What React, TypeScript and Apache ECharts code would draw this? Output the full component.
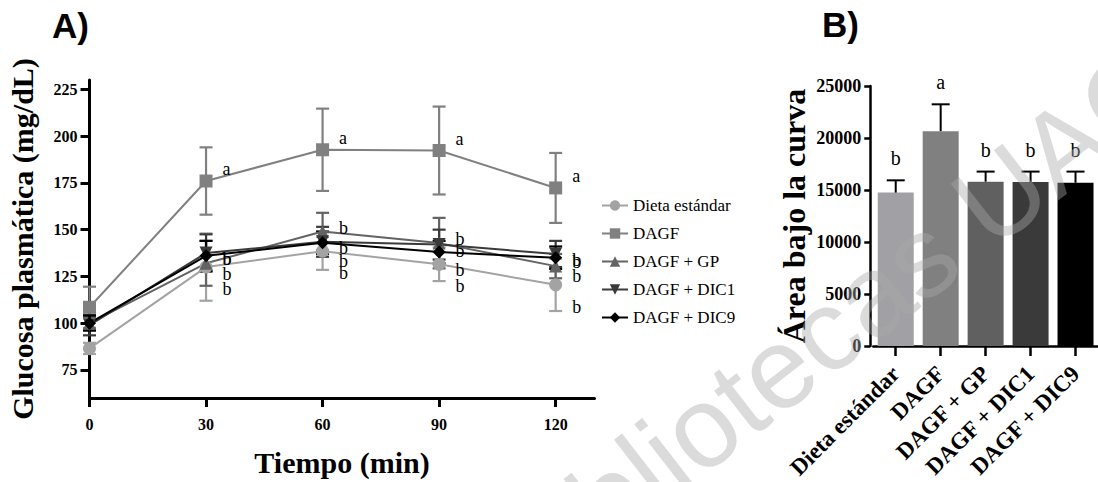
import React, { useEffect, useRef } from "react";
import * as echarts from "echarts";

// ---------- Data ----------
const times = [0, 30, 60, 90, 120];
const groups = ["Dieta estándar", "DAGF", "DAGF + GP", "DAGF + DIC1", "DAGF + DIC9"];

const dietaMean = [86.5, 130, 138.5, 131.5, 120.5];
const dietaSd = [3, 18, 10, 9, 14];
const dagfMean = [108.5, 176, 192.7, 192.3, 172.3];
const dagfSd = [11, 18, 22, 23.5, 18.7];
const gpMean = [100, 132, 149, 142.8, 130.5];
const gpSd = [3, 12, 10, 13.5, 6.5];
const dic1Mean = [99, 137.5, 143.5, 142, 137];
const dic1Sd = [5.5, 10, 8, 8, 7];
const dic9Mean = [100, 136, 143, 138, 135];
const dic9Sd = [4, 8, 6, 6, 6];

const letterDieta = ["", "b", "b", "b", "b"];
const letterDagf = ["", "a", "a", "a", "a"];
const letterGp = ["", "b", "b", "b", "b"];
const letterDic1 = ["", "b", "b", "b", "b"];
const letterDic9 = ["", "b", "b", "b", "b"];

const yTicksA = [75, 100, 125, 150, 175, 200, 225];
const xTicksA = [0, 30, 60, 90, 120];

const aucMean = [14750, 20660, 15800, 15770, 15700];
const aucErr = [1180, 2580, 970, 1000, 1070];
const aucLetters = ["b", "a", "b", "b", "b"];

// ---------- Styles ----------
const lineColors = ["#a3a3a3", "#808080", "#636363", "#3a3a3a", "#000000"];
const barColors = ["#a1a1a5", "#808080", "#606060", "#3a3a3a", "#000000"];
const symbols = ["circle", "rect", "triangle", "triangle", "diamond"];
const symbolRot = [0, 0, 0, 180, 0];
const symbolSizes = [13, 13, 13, 13, 13];
const letterOffsets = [[2, 22], [2, -12], [2, -4], [2, 6], [2, 18]];
const SERIF = "Liberation Serif";

const seriesDefs = [
  { mean: dietaMean, sd: dietaSd, letters: letterDieta },
  { mean: dagfMean, sd: dagfSd, letters: letterDagf },
  { mean: gpMean, sd: gpSd, letters: letterGp },
  { mean: dic1Mean, sd: dic1Sd, letters: letterDic1 },
  { mean: dic9Mean, sd: dic9Sd, letters: letterDic9 },
];

export default function App() {
  const ref = useRef<HTMLDivElement>(null);
  useEffect(() => {
    if (!ref.current) return;
    const chart = echarts.init(ref.current, null, { renderer: "svg" });

    const errSeries = seriesDefs.map((s, gi) => ({
      type: "custom",
      name: "err" + gi,
      xAxisIndex: 0,
      yAxisIndex: 0,
      z: 2,
      silent: true,
      encode: { x: 0, y: [1, 2] },
      data: times.map((t, i) => [t, s.mean[i] - s.sd[i], s.mean[i] + s.sd[i]]),
      renderItem: (params: any, api: any) => {
        const x = api.value(0);
        const lo = api.coord([x, api.value(1)]);
        const hi = api.coord([x, api.value(2)]);
        const hw = 6.5;
        const st = { stroke: lineColors[gi], lineWidth: 2.2 };
        return {
          type: "group",
          children: [
            { type: "line", shape: { x1: lo[0], y1: lo[1], x2: hi[0], y2: hi[1] }, style: st },
            { type: "line", shape: { x1: lo[0] - hw, y1: lo[1], x2: lo[0] + hw, y2: lo[1] }, style: st },
            { type: "line", shape: { x1: hi[0] - hw, y1: hi[1], x2: hi[0] + hw, y2: hi[1] }, style: st },
          ],
        };
      },
    }));

    const lineSeries = seriesDefs.map((s, gi) => ({
      type: "line",
      name: groups[gi],
      xAxisIndex: 0,
      yAxisIndex: 0,
      z: 3,
      data: times.map((t, i) => [t, s.mean[i]]),
      symbol: symbols[gi],
      symbolSize: symbolSizes[gi],
      symbolRotate: symbolRot[gi],
      showAllSymbol: true,
      lineStyle: { color: lineColors[gi], width: 2 },
      itemStyle: { color: lineColors[gi] },
      label: {
        show: true,
        position: "right",
        distance: 8,
        offset: letterOffsets[gi],
        formatter: (p: any) => s.letters[p.dataIndex],
        fontFamily: SERIF,
        fontSize: 18,
        color: "#000",
      },
    }));

    const barSeries = {
      type: "bar",
      name: "auc",
      xAxisIndex: 1,
      yAxisIndex: 1,
      barWidth: 36,
      data: aucMean.map((v, i) => ({ value: v, itemStyle: { color: barColors[i] } })),
      z: 2,
    };

    const barErr = {
      type: "custom",
      name: "aucErr",
      xAxisIndex: 1,
      yAxisIndex: 1,
      z: 3,
      silent: true,
      encode: { x: 0, y: [1, 2] },
      data: aucMean.map((v, i) => [i, v, v + aucErr[i]]),
      renderItem: (params: any, api: any) => {
        const idx = api.value(0);
        const lo = api.coord([idx, api.value(1)]);
        const hi = api.coord([idx, api.value(2)]);
        const hw = 9;
        const st = { stroke: "#000", lineWidth: 2 };
        return {
          type: "group",
          children: [
            { type: "line", shape: { x1: lo[0], y1: lo[1], x2: hi[0], y2: hi[1] }, style: st },
            { type: "line", shape: { x1: hi[0] - hw, y1: hi[1], x2: hi[0] + hw, y2: hi[1] }, style: st },
            {
              type: "text",
              style: {
                text: aucLetters[idx],
                x: hi[0],
                y: hi[1] - 12,
                align: "center",
                verticalAlign: "bottom",
                font: "20px Liberation Serif",
                fill: "#000",
              },
            },
          ],
        };
      },
    };

    const legendText = { fontFamily: "serif", fontSize: 17, color: "#000" };

    const option: any = {
      animation: false,
      backgroundColor: "#ffffff",
      textStyle: { fontFamily: SERIF },
      grid: [
        { left: 89.5, top: 80, width: 505, height: 327.5 },
        { left: 873.25, top: 86, width: 234.5, height: 260 },
      ],
      legend: {
        data: groups,
        orient: "vertical",
        left: 596,
        top: 192,
        itemWidth: 26,
        itemHeight: 13,
        itemGap: 11,
        textStyle: legendText,
      },
      xAxis: [
        {
          type: "value",
          gridIndex: 0,
          min: 0,
          max: 130,
          splitLine: { show: false },
          axisLine: { show: true, onZero: false, lineStyle: { color: "#000", width: 3 } },
          axisTick: { show: true, length: 9, lineStyle: { color: "#000", width: 3 }, customValues: xTicksA },
          axisLabel: {
            customValues: xTicksA,
            margin: 18,
            fontFamily: SERIF,
            fontWeight: "bold",
            fontSize: 16,
            color: "#000",
          },
          name: "Tiempo (min)",
          nameLocation: "middle",
          nameGap: 49,
          nameTextStyle: { fontFamily: SERIF, fontWeight: "bold", fontSize: 30, color: "#000" },
        },
        {
          type: "category",
          gridIndex: 1,
          data: groups,
          axisLine: { show: true, onZero: false, lineStyle: { color: "#000", width: 2.5 } },
          axisTick: { show: true, alignWithLabel: true, length: 10, lineStyle: { color: "#000", width: 2.5 } },
          axisLabel: {
            rotate: 45,
            margin: 24,
            interval: 0,
            fontFamily: SERIF,
            fontWeight: "bold",
            fontSize: 23,
            color: "#000",
          },
        },
      ],
      yAxis: [
        {
          type: "value",
          gridIndex: 0,
          min: 60,
          max: 230,
          splitLine: { show: false },
          axisLine: { show: true, lineStyle: { color: "#000", width: 3 } },
          axisTick: { show: true, length: 9, lineStyle: { color: "#000", width: 3 }, customValues: yTicksA },
          axisLabel: {
            customValues: yTicksA,
            margin: 12,
            fontFamily: SERIF,
            fontWeight: "bold",
            fontSize: 16,
            color: "#000",
          },
          name: "Glucosa plasmática (mg/dL)",
          nameLocation: "middle",
          nameGap: 52,
          nameTextStyle: { fontFamily: SERIF, fontWeight: "bold", fontSize: 30, color: "#000" },
        },
        {
          type: "value",
          gridIndex: 1,
          min: 0,
          max: 25000,
          interval: 5000,
          offset: 3,
          splitLine: { show: false },
          axisLine: { show: true, lineStyle: { color: "#000", width: 2.5 } },
          axisTick: { show: true, length: 6, lineStyle: { color: "#000", width: 2.5 } },
          axisLabel: {
            margin: 9,
            formatter: (v: number) => String(v),
            fontFamily: SERIF,
            fontWeight: "bold",
            fontSize: 18,
            color: "#000",
          },
          name: "Área bajo la curva",
          nameLocation: "middle",
          nameGap: 60,
          nameTextStyle: { fontFamily: SERIF, fontWeight: "bold", fontSize: 32, color: "#000" },
        },
      ],
      graphic: [
        {
          type: "text",
          x: 52,
          y: 8,
          style: { text: "A)", font: "bold 35px Liberation Sans", fill: "#000" },
        },
        {
          type: "text",
          x: 822,
          y: 7,
          style: { text: "B)", font: "bold 35px Liberation Sans", fill: "#000" },
        },
        {
          type: "text",
          x: 834,
          y: 324,
          rotation: 0.66,
          z: 100,
          silent: true,
          style: {
            text: "Bibliotecas UAQ",
            font: "115px Liberation Sans",
            fill: "rgba(170,170,170,0.42)",
            align: "center",
            verticalAlign: "middle",
          },
        },
      ],
      series: [...errSeries, ...lineSeries, barSeries, barErr],
    };
    chart.setOption(option);
    return () => chart.dispose();
  }, []);

  return (
    <div
      ref={ref}
      style={{ position: "fixed", left: 0, top: 0, width: 1098, height: 482, background: "#fff" }}
    />
  );
}
